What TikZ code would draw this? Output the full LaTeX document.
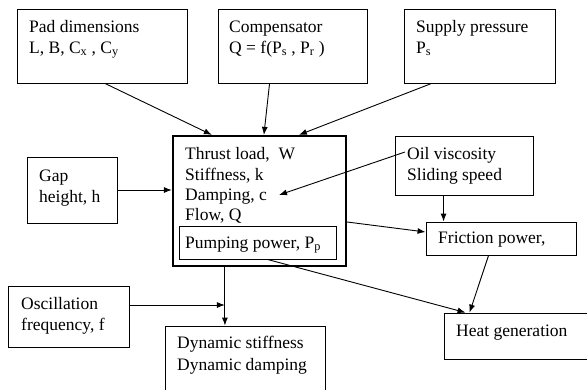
\documentclass[tikz,border=0pt]{standalone}
\usepackage{fontspec}
\setmainfont{Liberation Serif}
\usetikzlibrary{calc,arrows.meta}
\begin{document}
\begin{tikzpicture}[x=1pt,y=-1pt,
 box/.style={draw, line width=0.9pt, inner sep=0pt, rectangle},
 lbl/.style={anchor=base west, inner sep=0pt, font=\fontsize{17.5}{21}\selectfont},
 arr/.style={line width=0.9pt, -{Latex[length=8pt,width=6pt]}},
 ln/.style={line width=0.9pt}]
\useasboundingbox (0,0) rectangle (587,389);
\clip (0,0) rectangle (587,389);
% boxes
\node[box, minimum width=170pt, minimum height=74pt] (pad) at (102,46) {};
\node[box, minimum width=149pt, minimum height=74pt] (comp) at (292.5,46) {};
\node[box, minimum width=151pt, minimum height=74pt] (supply) at (479.5,46) {};
\node[box, line width=2.2pt, minimum width=173pt, minimum height=130pt] (main) at (259.5,201) {};
\node[box, minimum width=157pt, minimum height=33pt] (pump) at (257.5,242.5) {};
\node[box, minimum width=90pt, minimum height=66pt] (gap) at (72,190) {};
\node[box, minimum width=138pt, minimum height=59pt] (oil) at (464,165.5) {};
\node[box, minimum width=150pt, minimum height=33pt] (fric) at (501,238.5) {};
\node[box, minimum width=150pt, minimum height=46pt] (heat) at (519,336) {};
\node[box, minimum width=121pt, minimum height=61pt] (osc) at (68.5,316.5) {};
\node[box, minimum width=160pt, minimum height=69pt] (dyn) at (245,360.5) {};
% texts
\node[lbl] (padt1) at (29,32) {Pad dimensions};
\node[lbl] (padt2) at (29,53) {L, B, C\textsubscript{x} , C\textsubscript{y}};
\node[lbl] (compt1) at (229,32) {Compensator};
\node[lbl] (compt2) at (229,53) {Q = f(P\textsubscript{s} , P\textsubscript{r} )};
\node[lbl] (supt1) at (416,32) {Supply pressure};
\node[lbl] (supt2) at (416,53) {P\textsubscript{s}};
\node[lbl] (maint1) at (185,159) {Thrust load,\ \ W};
\node[lbl] (maint2) at (185,180) {Stiffness, k};
\node[lbl] (maint3) at (185,200) {Damping, c};
\node[lbl] (maint4) at (185,220) {Flow, Q};
\node[lbl] (pumpt) at (185,248) {Pumping power, P\textsubscript{p}};
\node[lbl] (gapt1) at (39,181) {Gap};
\node[lbl] (gapt2) at (39,202) {height, h};
\node[lbl] (oilt1) at (407,159) {Oil viscosity};
\node[lbl] (oilt2) at (407,180) {Sliding speed};
\node[lbl] (frict) at (438,243) {Friction power,};
\node[lbl] (heatt) at (456,336) {Heat generation};
\node[lbl] (osct1) at (21,309) {Oscillation};
\node[lbl] (osct2) at (21,330) {frequency, f};
\node[lbl] (dynt1) at (177,348) {Dynamic stiffness};
\node[lbl] (dynt2) at (177,370) {Dynamic damping};
% connectors
\draw[arr] ($(pad.south)+(3,0)$) -- ($(main.north west)+(40,0)$);
\draw[arr] ($(comp.south west)+(52,0)$) -- ($(main.north west)+(92,0)$);
\draw[arr] ($(supply.south west)+(28,0)$) -- ($(main.north west)+(127,0)$);
\draw[arr] (gap.east) -- (gap.east -| main.west);
\coordinate (oilend) at (405,152);
\coordinate (damptip) at (279,195);
\draw[arr] (oilend) -- (damptip);
\draw[arr] ($(oil.south west)+(49,0)$) coordinate (oilbot) -- (oilbot |- fric.north);
\draw[arr] ($(main.east)+(0,21)$) -- ($(fric.west)+(0,-6.5)$);
\draw[arr] ($(pump.south)+(10,0)$) -- ($(heat.north west)+(22,0)$);
\draw[arr] ($(fric.south west)+(63,0)$) -- ($(heat.north west)+(26,0)$);
\coordinate (vline) at ($(main.south west)+(53,0)$);
\draw[arr] (vline) -- (vline |- dyn.north);
\draw[arr] ($(osc.east)+(0,-11.5)$) coordinate (oscout) -- (oscout -| vline);
\end{tikzpicture}
\end{document}
